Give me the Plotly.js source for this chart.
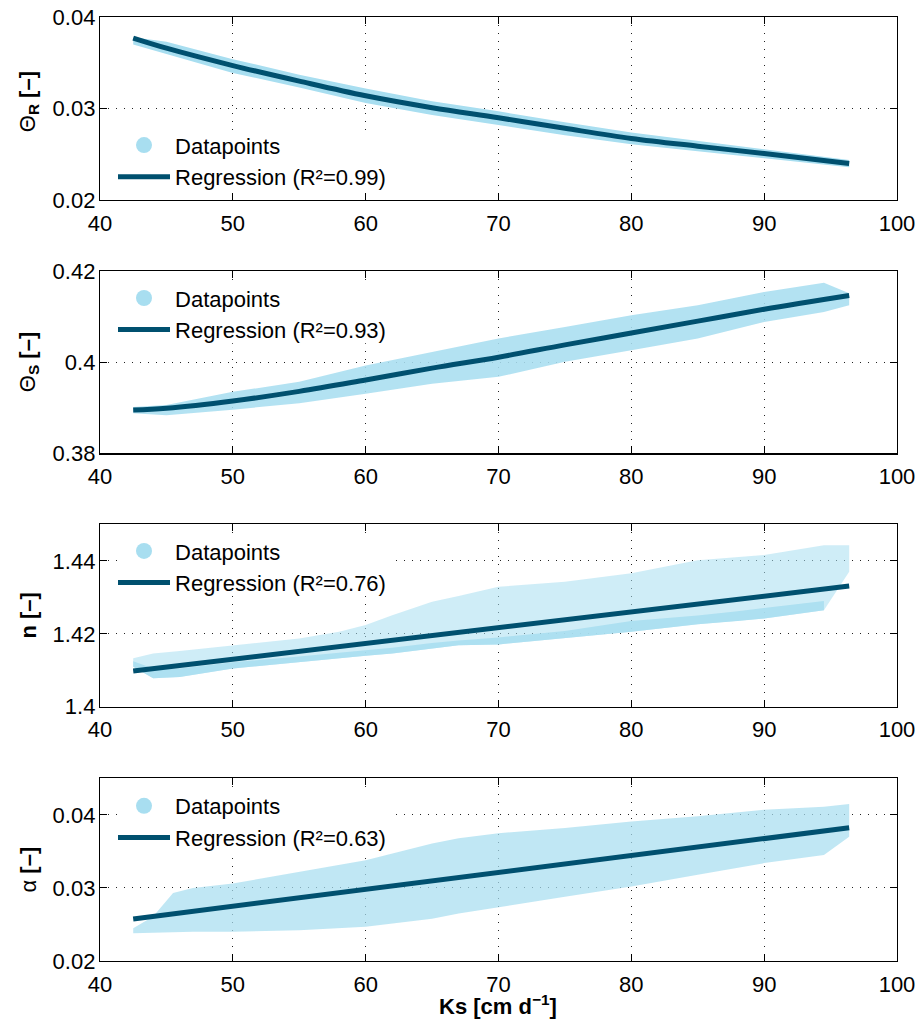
<!DOCTYPE html>
<html>
<head>
<meta charset="utf-8">
<script src="https://cdn.plot.ly/plotly-3.0.1.min.js"></script>
<style>html,body{margin:0;padding:0;background:#fff;}#chart{width:920px;height:1026px;}</style>
</head>
<body>
<div id="chart"></div>
<script>
// ---------- data ----------
const xTicks = [40, 50, 60, 70, 80, 90, 100];
const xTickLabels = ['40', '50', '60', '70', '80', '90', '100'];

// Panel 1: Theta_R
const thetaRTicks = [0.02, 0.03, 0.04];
const thetaRTickLabels = ['0.02', '0.03', '0.04'];
const thetaRCloudX = [42.5, 45, 50, 55, 60, 65, 70, 75, 80, 85, 90, 96.4];
const thetaRCloudHi = [0.0378, 0.0373, 0.0354, 0.0337, 0.0322, 0.0308, 0.0297, 0.0285, 0.0274, 0.0265, 0.0256, 0.0244];
const thetaRCloudLo = [0.0370, 0.0360, 0.0339, 0.0323, 0.0306, 0.0293, 0.0282, 0.0271, 0.0261, 0.0253, 0.0246, 0.0236];
const thetaRFitX = [42.5, 45, 50, 55, 60, 65, 70, 75, 80, 85, 90, 96.4];
const thetaRFit = [0.0377, 0.0366, 0.0347, 0.0330, 0.0314, 0.0301, 0.0290, 0.02785, 0.02675, 0.0259, 0.0251, 0.0240];

// Panel 2: Theta_S
const thetaSTicks = [0.38, 0.40, 0.42];
const thetaSTickLabels = ['0.38', '0.4', '0.42'];
const thetaSCloudX = [42.5, 45, 50, 55, 60, 65, 70, 75, 80, 85, 90, 94.5, 96.4];
const thetaSCloudHi = [0.3902, 0.3906, 0.3935, 0.3957, 0.3993, 0.4023, 0.4052, 0.4077, 0.4103, 0.4125, 0.4154, 0.4174, 0.4151];
const thetaSCloudLo = [0.3888, 0.3884, 0.3896, 0.3910, 0.3931, 0.3953, 0.3968, 0.4001, 0.4026, 0.4052, 0.4088, 0.4110, 0.4125];
const thetaSFitX = [42.5, 45, 50, 55, 60, 65, 70, 75, 80, 85, 90, 96.4];
const thetaSFit = [0.3895, 0.3899, 0.3915, 0.3936, 0.3961, 0.3987, 0.4011, 0.4038, 0.4064, 0.4090, 0.4116, 0.4146];

// Panel 3: n
const nTicks = [1.40, 1.42, 1.44];
const nTickLabels = ['1.4', '1.42', '1.44'];
const nCloudX = [42.5, 44, 46, 50, 55, 58, 60, 62, 65, 67, 70, 75, 80, 85, 88, 90, 94.5, 96.4];
const nCloudHi = [1.4133, 1.4146, 1.4153, 1.4169, 1.4187, 1.4206, 1.4224, 1.4251, 1.4288, 1.4304, 1.4329, 1.4343, 1.4366, 1.4402, 1.4411, 1.4416, 1.4443, 1.4443];
const nCloudLo = [1.4110, 1.4078, 1.4082, 1.4105, 1.4123, 1.4133, 1.4140, 1.4146, 1.4160, 1.4169, 1.4171, 1.4188, 1.4206, 1.4226, 1.4235, 1.4242, 1.4265, 1.4370];
const nDenseX = [42.5, 44, 46, 50, 55, 58, 60, 62, 65, 67, 70, 75, 80, 85, 88, 90, 94.5];
const nDenseHi = [1.4125, 1.4105, 1.4105, 1.4122, 1.4138, 1.4148, 1.4155, 1.4162, 1.4175, 1.4182, 1.4190, 1.4208, 1.4235, 1.4250, 1.4262, 1.4270, 1.4290];
const nDenseLo = [1.4110, 1.4078, 1.4082, 1.4105, 1.4123, 1.4133, 1.4140, 1.4146, 1.4160, 1.4169, 1.4171, 1.4188, 1.4206, 1.4226, 1.4235, 1.4242, 1.4265];
const nFitX = [42.5, 96.4];
const nFit = [1.4098, 1.4331];

// Panel 4: alpha
const alphaTicks = [0.02, 0.03, 0.04];
const alphaTickLabels = ['0.02', '0.03', '0.04'];
const alphaCloudX = [42.5, 44, 45.5, 47, 50, 55, 60, 65, 67, 70, 75, 80, 85, 90, 94.5, 96.4];
const alphaCloudHi = [0.0245, 0.0261, 0.0293, 0.0300, 0.0306, 0.0322, 0.0338, 0.0361, 0.0368, 0.0375, 0.0382, 0.0391, 0.0398, 0.0407, 0.0411, 0.0415];
const alphaCloudLo = [0.0238, 0.0238, 0.0239, 0.0240, 0.0240, 0.0242, 0.0247, 0.0258, 0.0265, 0.0274, 0.0288, 0.0302, 0.0318, 0.0334, 0.0345, 0.0370];
const alphaFitX = [42.5, 96.4];
const alphaFit = [0.02575, 0.03824];

const r2Labels = ['0.99', '0.93', '0.76', '0.63'];

// ---------- styling ----------
const LIGHT = '#a8def0';
const DARK = '#00506f';
const FONT = 'Liberation Sans, Arial, Helvetica, sans-serif';
const FS = 22;
const X_RANGE = [40, 100];
const RANGES = [[0.02, 0.04], [0.38, 0.42], [1.40, 1.45], [0.02, 0.045]];
const PANEL_PX = [[16.7, 200], [270.7, 453.3], [524.3, 706.7], [778.3, 961]];
const PLOT_L = 100, PLOT_R = 896.7;

function band(x, hi, lo, ax, color) {
  return {
    type: 'scatter', mode: 'lines',
    x: x.concat(x.slice().reverse()),
    y: hi.concat(lo.slice().reverse()),
    fill: 'toself', fillcolor: color, line: {width: 0, color: color},
    hoverinfo: 'skip', showlegend: false,
    xaxis: 'x' + ax, yaxis: 'y' + ax
  };
}
function legendDot(ax, lg) {
  return {type: 'scatter', mode: 'markers', x: [null], y: [null],
    marker: {size: 16, color: LIGHT}, name: 'Datapoints', legend: lg,
    xaxis: 'x' + ax, yaxis: 'y' + ax};
}
function fitLine(x, y, ax, lg, r2, shape) {
  return {type: 'scatter', mode: 'lines', x: x, y: y,
    line: {color: DARK, width: 5, shape: shape},
    name: 'Regression (R²=' + r2 + ')', legend: lg,
    xaxis: 'x' + ax, yaxis: 'y' + ax};
}

const traces = [
  band(thetaRCloudX, thetaRCloudHi, thetaRCloudLo, '', LIGHT),
  legendDot('', 'legend'),
  fitLine(thetaRFitX, thetaRFit, '', 'legend', r2Labels[0], 'spline'),

  band(thetaSCloudX, thetaSCloudHi, thetaSCloudLo, '2', 'rgba(168,222,240,0.88)'),
  legendDot('2', 'legend2'),
  fitLine(thetaSFitX, thetaSFit, '2', 'legend2', r2Labels[1], 'spline'),

  band(nCloudX, nCloudHi, nCloudLo, '3', 'rgba(168,222,240,0.55)'),
  band(nDenseX, nDenseHi, nDenseLo, '3', 'rgba(168,222,240,0.9)'),
  legendDot('3', 'legend3'),
  fitLine(nFitX, nFit, '3', 'legend3', r2Labels[2], 'linear'),

  band(alphaCloudX, alphaCloudHi, alphaCloudLo, '4', 'rgba(168,222,240,0.72)'),
  legendDot('4', 'legend4'),
  fitLine(alphaFitX, alphaFit, '4', 'legend4', r2Labels[3], 'linear')
];

const plotTop = 16.7, plotBottom = 961, plotH = plotBottom - plotTop;
function py(p) { return (plotBottom - p) / plotH; }

function xAxis(anchor) {
  return {
    anchor: anchor, domain: [0, 1], range: X_RANGE,
    tickmode: 'array', tickvals: xTicks, ticktext: xTickLabels,
    ticks: 'inside', ticklen: 7, tickwidth: 1, tickcolor: '#000',
    showline: true, linecolor: '#000', linewidth: 1.2, mirror: 'ticks',
    showgrid: true, gridcolor: '#222', gridwidth: 1, griddash: '1px,7px',
    zeroline: false, ticklabelstandoff: 3,
    tickfont: {family: FONT, size: FS, color: '#000'}
  };
}
function yAxis(anchor, i, vals, labels) {
  return {
    anchor: anchor, domain: [py(PANEL_PX[i][1]), py(PANEL_PX[i][0])], range: RANGES[i],
    tickmode: 'array', tickvals: vals, ticktext: labels,
    ticks: 'inside', ticklen: 7, tickwidth: 1, tickcolor: '#000',
    showline: true, linecolor: '#000', linewidth: 1.2, mirror: 'ticks',
    showgrid: true, gridcolor: '#222', gridwidth: 1, griddash: '1px,7px',
    zeroline: false, ticklabelstandoff: -1,
    tickfont: {family: FONT, size: FS, color: '#000'}
  };
}
function legendAt(yTopPx) {
  return {x: (113 - 100) / 796.7, xanchor: 'left', y: py(yTopPx), yanchor: 'top',
    bgcolor: 'rgba(255,255,255,0)', borderwidth: 0, itemwidth: 52, itemsizing: 'trace',
    font: {family: FONT, size: FS, color: '#000'}, traceorder: 'normal'};
}
// white box behind each legend: hides the grid but stays under the data
function pxToX(px) { return X_RANGE[0] + (px - PLOT_L) / (PLOT_R - PLOT_L) * (X_RANGE[1] - X_RANGE[0]); }
function pxToY(px, i) {
  const t = PANEL_PX[i][0], b = PANEL_PX[i][1], r = RANGES[i];
  return r[0] + (b - px) / (b - t) * (r[1] - r[0]);
}
function legendBox(ax, i, topPx, bottomPx) {
  return {type: 'rect', layer: 'between', xref: 'x' + ax, yref: 'y' + ax,
    x0: pxToX(117), x1: pxToX(392), y0: pxToY(bottomPx, i), y1: pxToY(topPx, i),
    fillcolor: '#fff', line: {width: 0}};
}
function yTitle(text, yPx) {
  return {text: text, xref: 'paper', yref: 'paper', x: (29 - 100) / 796.7, y: py(yPx),
    xanchor: 'center', yanchor: 'middle', textangle: -90, showarrow: false,
    font: {family: FONT, size: FS, color: '#000'}};
}

const layout = {
  width: 920, height: 1026,
  margin: {l: 100, r: 23.3, t: plotTop, b: 1026 - plotBottom},
  paper_bgcolor: '#fff', plot_bgcolor: '#fff',
  showlegend: true,
  xaxis: xAxis('y'), xaxis2: xAxis('y2'), xaxis3: xAxis('y3'), xaxis4: xAxis('y4'),
  yaxis: yAxis('x', 0, thetaRTicks, thetaRTickLabels),
  yaxis2: yAxis('x2', 1, thetaSTicks, thetaSTickLabels),
  yaxis3: yAxis('x3', 2, nTicks, nTickLabels),
  yaxis4: yAxis('x4', 3, alphaTicks, alphaTickLabels),
  legend: legendAt(124),
  legend2: legendAt(277),
  legend3: legendAt(530),
  legend4: legendAt(785),
  shapes: [
    legendBox('', 0, 131, 190),
    legendBox('2', 1, 284, 343),
    legendBox('3', 2, 537, 596),
    legendBox('4', 3, 792, 851)
  ],
  annotations: [
    yTitle('Θ<sub><b>R</b></sub><b> [–]</b>', 101),
    yTitle('Θ<sub><b>S</b></sub><b> [–]</b>', 362),
    yTitle('<b>n [–]</b>', 615.5),
    yTitle('α<b> [–]</b>', 869.5),
    {text: '<b>Ks [cm d<sup>−1</sup>]</b>', xref: 'paper', yref: 'paper',
     x: (498 - 100) / 796.7, y: py(1005), xanchor: 'center', yanchor: 'middle',
     showarrow: false, font: {family: FONT, size: FS, color: '#000'}}
  ]
};

Plotly.newPlot('chart', traces, layout, {displayModeBar: false, staticPlot: true});
</script>
</body>
</html>
